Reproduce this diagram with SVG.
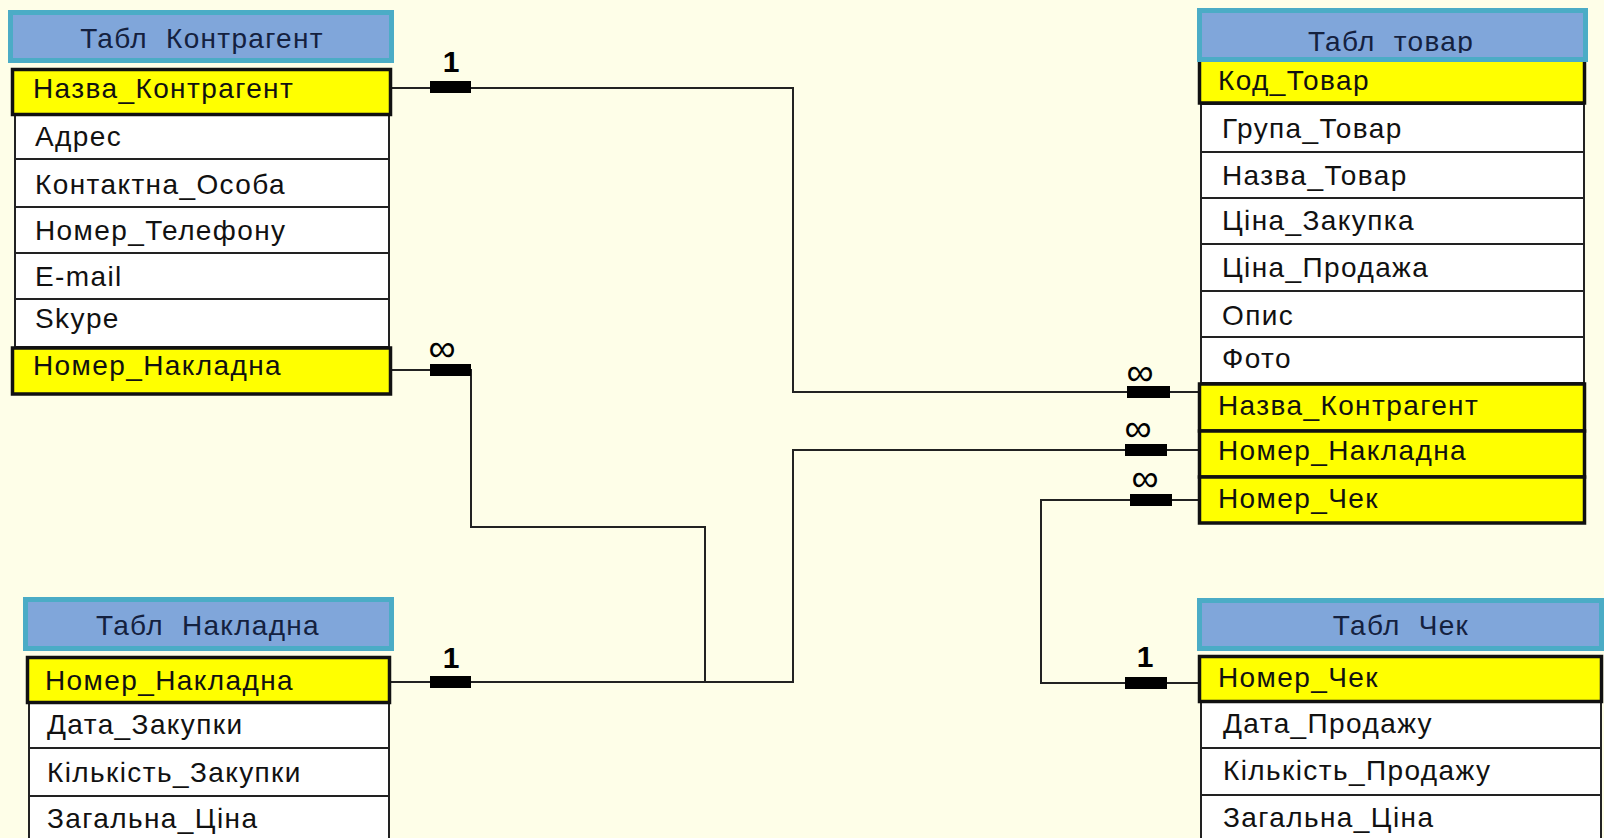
<svg xmlns="http://www.w3.org/2000/svg" width="1604" height="838" viewBox="0 0 1604 838">
<style>
.hdr{fill:#80A6DA;stroke:#4BACC6;stroke-width:5}
.key{fill:#FFFF00;stroke:#111;stroke-width:3.5}
.fld{fill:#FFFFFF;stroke:#222;stroke-width:2}
.t{font-family:"Liberation Sans",Arial,sans-serif;font-size:28px;fill:#111;letter-spacing:1.4px}
.ht{font-family:"Liberation Sans",Arial,sans-serif;font-size:28px;fill:#14213F;letter-spacing:1.3px;text-anchor:middle}
.conn{fill:none;stroke:#222;stroke-width:2}
.bar{fill:#000}
.one{font-family:"Liberation Sans",Arial,sans-serif;font-size:30px;font-weight:bold;fill:#000;text-anchor:middle}
.inf{font-family:"Liberation Sans",Arial,sans-serif;font-size:38px;fill:#000;text-anchor:middle}
</style>
<defs>
<clipPath id="clipTovar"><rect x="1197" y="8" width="392" height="45"/></clipPath>
</defs>
<rect x="0" y="0" width="1604" height="838" fill="#FEFEE8"/>

<g id="connectors">
<path class="conn" d="M392 88 H793 V392 H1198"/>
<path class="conn" d="M392 370 H471 V527 H705 V682"/>
<path class="conn" d="M391 682 H793 V450 H1198"/>
<path class="conn" d="M1198 500 H1041 V683 H1198"/>
<rect class="bar" x="430" y="81" width="41" height="12"/>
<rect class="bar" x="430" y="364" width="41" height="12"/>
<rect class="bar" x="430" y="676" width="41" height="12"/>
<rect class="bar" x="1127" y="386" width="43" height="12"/>
<rect class="bar" x="1125" y="444" width="42" height="12"/>
<rect class="bar" x="1130" y="494" width="42" height="12"/>
<rect class="bar" x="1125" y="677" width="42" height="12"/>
<text class="one" x="451" y="72">1</text>
<text class="inf" x="442" y="361">∞</text>
<text class="one" x="451" y="668">1</text>
<text class="inf" x="1140" y="385">∞</text>
<text class="inf" x="1138" y="441">∞</text>
<text class="inf" x="1145" y="491">∞</text>
<text class="one" x="1145" y="667">1</text>
</g>

<g id="tabl-kontragent">
<rect class="hdr" x="10.5" y="12.5" width="381" height="48"/>
<text class="ht" x="202" y="48">Табл&#160; Контрагент</text>
<rect class="fld" x="15" y="115" width="374" height="44"/>
<rect class="fld" x="15" y="159" width="374" height="48"/>
<rect class="fld" x="15" y="207" width="374" height="46"/>
<rect class="fld" x="15" y="253" width="374" height="46"/>
<rect class="fld" x="15" y="299" width="374" height="48"/>
<rect class="key" x="12.5" y="69.5" width="378" height="45"/>
<rect class="key" x="12.5" y="348" width="378" height="46"/>
<text class="t" x="33" y="98">Назва_Контрагент</text>
<text class="t" x="35" y="146">Адрес</text>
<text class="t" x="35" y="194">Контактна_Особа</text>
<text class="t" x="35" y="240">Номер_Телефону</text>
<text class="t" x="35" y="286">E-mail</text>
<text class="t" x="35" y="328">Skype</text>
<text class="t" x="33" y="375">Номер_Накладна</text>
</g>

<g id="tabl-nakladna">
<rect class="hdr" x="25.5" y="599.5" width="366" height="49"/>
<text class="ht" x="208" y="635">Табл&#160; Накладна</text>
<rect class="fld" x="29" y="703" width="360" height="45"/>
<rect class="fld" x="29" y="748" width="360" height="48"/>
<rect class="fld" x="29" y="796" width="360" height="60"/>
<rect class="key" x="27.5" y="657.5" width="362" height="45"/>
<text class="t" x="45" y="690">Номер_Накладна</text>
<text class="t" x="47" y="734">Дата_Закупки</text>
<text class="t" x="47" y="782">Кількість_Закупки</text>
<text class="t" x="47" y="828">Загальна_Ціна</text>
</g>

<g id="tabl-tovar">
<rect class="fld" x="1201" y="104" width="383" height="48"/>
<rect class="fld" x="1201" y="152" width="383" height="46"/>
<rect class="fld" x="1201" y="198" width="383" height="46"/>
<rect class="fld" x="1201" y="244" width="383" height="47"/>
<rect class="fld" x="1201" y="291" width="383" height="46"/>
<rect class="fld" x="1201" y="337" width="383" height="46"/>
<rect class="key" x="1199.5" y="58" width="385" height="45"/>
<rect class="key" x="1199.5" y="384" width="385" height="47"/>
<rect class="key" x="1199.5" y="431" width="385" height="46"/>
<rect class="key" x="1199.5" y="477" width="385" height="46"/>
<rect class="hdr" x="1199.5" y="10.5" width="386" height="49"/>
<text class="ht" x="1391" y="51" clip-path="url(#clipTovar)">Табл&#160; товар</text>
<text class="t" x="1218" y="90">Код_Товар</text>
<text class="t" x="1222" y="138">Група_Товар</text>
<text class="t" x="1222" y="185">Назва_Товар</text>
<text class="t" x="1222" y="230">Ціна_Закупка</text>
<text class="t" x="1222" y="277">Ціна_Продажа</text>
<text class="t" x="1222" y="325">Опис</text>
<text class="t" x="1222" y="368">Фото</text>
<text class="t" x="1218" y="415">Назва_Контрагент</text>
<text class="t" x="1218" y="460">Номер_Накладна</text>
<text class="t" x="1218" y="508">Номер_Чек</text>
</g>

<g id="tabl-chek">
<rect class="hdr" x="1199.5" y="600.5" width="402" height="48"/>
<text class="ht" x="1401" y="635">Табл&#160; Чек</text>
<rect class="fld" x="1201" y="702" width="400" height="46"/>
<rect class="fld" x="1201" y="748" width="400" height="47"/>
<rect class="fld" x="1201" y="795" width="400" height="60"/>
<rect class="key" x="1199.5" y="656.5" width="402" height="45"/>
<text class="t" x="1218" y="687">Номер_Чек</text>
<text class="t" x="1223" y="733">Дата_Продажу</text>
<text class="t" x="1223" y="780">Кількість_Продажу</text>
<text class="t" x="1223" y="827">Загальна_Ціна</text>
</g>
</svg>
